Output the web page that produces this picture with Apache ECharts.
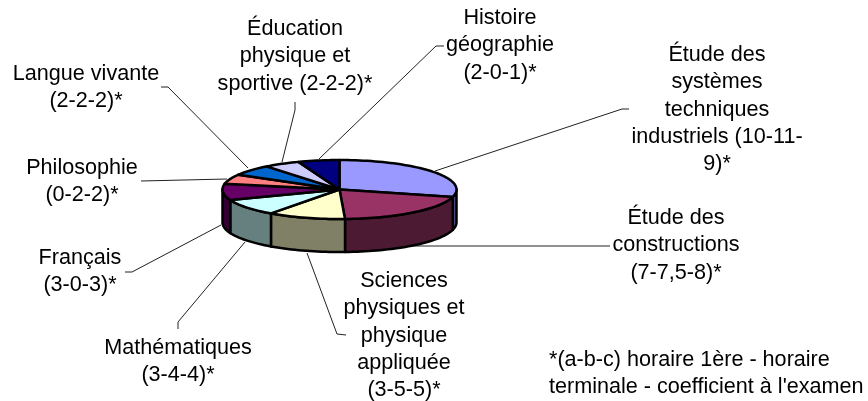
<!DOCTYPE html>
<html>
<head>
<meta charset="utf-8">
<style>
  html, body { margin: 0; background: #fff; }
  #chart { width: 868px; height: 401px; }
</style>
</head>
<body>
<div id="chart"></div>
<script src="https://cdn.jsdelivr.net/npm/echarts@6/dist/echarts.min.js"></script>
<script>
// slices, clockwise from 12 o'clock (shares)
const subjects = [
  'Étude des\nsystèmes\ntechniques\nindustriels (10-11-\n9)*',
  'Étude des\nconstructions\n(7-7,5-8)*',
  'Sciences\nphysiques et\nphysique\nappliquée\n(3-5-5)*',
  'Mathématiques\n(3-4-4)*',
  'Français\n(3-0-3)*',
  'Philosophie\n(0-2-2)*',
  'Langue vivante\n(2-2-2)*',
  'Éducation\nphysique et\nsportive (2-2-2)*',
  'Histoire\ngéographie\n(2-0-1)*'
]
const shares = [29, 20.2, 10.7, 9.2, 8.9, 5.3, 5.9, 5, 5.7]
const footnote = "*(a-b-c) horaire 1ère - horaire\nterminale - coefficient à l'examen"

const topColors = ['#9999ff', '#993366', '#ffffcc', '#ccffff', '#660066', '#ff8080', '#0066cc', '#ccccff', '#000080']
const sideColors = ['#4c4c80', '#4d1a33', '#808066', '#668080', '#330033', '#804040', '#003366', '#666680', '#000040']

// label placement: [centre x, first line y], leader polyline from label to rim
const labelPos = [[717, 55], [676, 218], [404, 281], [178, 348], [80, 258], [82, 168], [86, 74], [295, 29], [500, 18]]
const leaders = [
  [[629, 109], [622, 109], [435, 171]],
  [[610, 246], [600, 246], [413, 246]],
  [[346, 335], [337, 334], [307, 253]],
  [[178, 329], [178, 322], [245, 242]],
  [[125, 272], [132, 272], [221, 225]],
  [[141, 181], [227, 179]],
  [[161, 87], [168, 87], [248, 168]],
  [[295, 102], [295, 110], [282, 162]],
  [[444, 46], [436, 46], [319, 159]]
]

const FONT = '21.6px "Liberation Sans", Arial, sans-serif'
const LINE = 27.3
const pie = { cx: 339.5, cy: 189.5, rx: 117, ry: 29.5, depth: 33 }

const total = shares.reduce((a, b) => a + b, 0)
const bounds = [0]
shares.forEach((v) => bounds.push(bounds[bounds.length - 1] + (v / total) * 360))

function rim(deg, drop) {
  const t = (deg * Math.PI) / 180
  return [pie.cx + pie.rx * Math.sin(t), pie.cy - pie.ry * Math.cos(t) + (drop || 0)]
}

function arc(a, b, drop) {
  const pts = []
  const n = Math.max(2, Math.ceil(Math.abs(b - a) / 2))
  for (let i = 0; i <= n; i++) pts.push(rim(a + ((b - a) * i) / n, drop))
  return pts
}

function renderSide(params) {
  const i = params.dataIndex
  const a = Math.max(bounds[i], 90)
  const b = Math.min(bounds[i + 1], 270)
  if (b <= a) return { type: 'group', children: [] }
  return {
    type: 'polygon',
    shape: { points: arc(a, b, 0).concat(arc(b, a, pie.depth)) },
    style: { fill: sideColors[i], stroke: '#000', lineWidth: 2.5, lineJoin: 'round' }
  }
}

function renderTop(params) {
  const i = params.dataIndex
  return {
    type: 'polygon',
    shape: { points: [[pie.cx, pie.cy]].concat(arc(bounds[i], bounds[i + 1], 0)) },
    style: { fill: topColors[i], stroke: '#000', lineWidth: 2.5, lineJoin: 'round' }
  }
}

function renderLabel(params) {
  const i = params.dataIndex
  return {
    type: 'group',
    children: [
      {
        type: 'polyline',
        shape: { points: leaders[i] },
        style: { fill: null, stroke: '#222', lineWidth: 1 }
      },
      {
        type: 'text',
        style: {
          text: subjects[i],
          x: labelPos[i][0],
          y: labelPos[i][1] - LINE / 2,
          align: 'center',
          verticalAlign: 'top',
          font: FONT,
          lineHeight: LINE,
          fill: '#000'
        }
      }
    ]
  }
}

const chart = echarts.init(document.getElementById('chart'))
chart.setOption({
  animation: false,
  backgroundColor: '#fff',
  series: [
    { type: 'custom', coordinateSystem: 'none', renderItem: renderLabel, data: shares, z: 1, silent: true },
    { type: 'custom', coordinateSystem: 'none', renderItem: renderSide, data: shares, z: 2, silent: true },
    { type: 'custom', coordinateSystem: 'none', renderItem: renderTop, data: shares, z: 3, silent: true }
  ],
  graphic: [{
    type: 'text',
    left: 549,
    top: 346,
    style: { text: footnote, font: FONT, lineHeight: LINE, fill: '#000' }
  }]
})
</script>
</body>
</html>
